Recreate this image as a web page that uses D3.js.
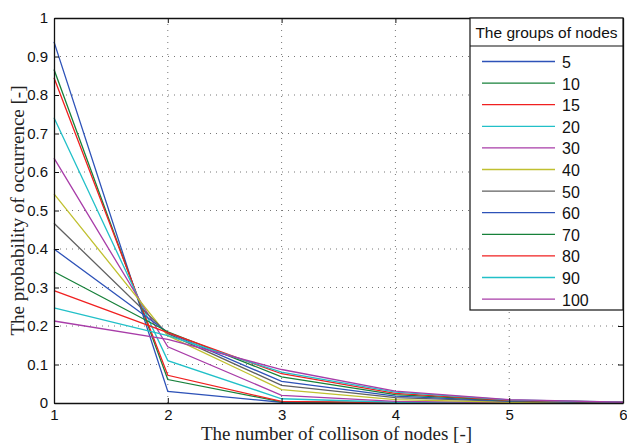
<!DOCTYPE html>
<html>
<head>
<meta charset="utf-8">
<script src="https://cdn.jsdelivr.net/npm/d3@7"></script>
<style>
  body { margin: 0; background: #fff; }
</style>
</head>
<body>
<div id="chart"></div>
<script>
// collision count on the x axis
const collisions = [1, 2, 3, 4, 5, 6];
const groups = ["5", "10", "15", "20", "30", "40", "50", "60", "70", "80", "90", "100"];
// probability per group, one row per group
const g5   = [0.938, 0.030, 0.002, 0.000, 0.000, 0.000];
const g10  = [0.866, 0.061, 0.003, 0.001, 0.000, 0.000];
const g15  = [0.845, 0.072, 0.004, 0.001, 0.000, 0.000];
const g20  = [0.741, 0.110, 0.011, 0.002, 0.000, 0.000];
const g30  = [0.636, 0.146, 0.020, 0.004, 0.001, 0.000];
const g40  = [0.543, 0.175, 0.035, 0.009, 0.002, 0.001];
const g50  = [0.467, 0.180, 0.046, 0.014, 0.004, 0.001];
const g60  = [0.400, 0.183, 0.056, 0.018, 0.005, 0.001];
const g70  = [0.341, 0.185, 0.068, 0.022, 0.006, 0.002];
const g80  = [0.292, 0.183, 0.076, 0.025, 0.007, 0.002];
const g90  = [0.247, 0.175, 0.080, 0.028, 0.008, 0.002];
const g100 = [0.213, 0.165, 0.087, 0.031, 0.009, 0.002];
const series = [g5, g10, g15, g20, g30, g40, g50, g60, g70, g80, g90, g100];
const yTicks = [0, 0.1, 0.2, 0.3, 0.4, 0.5, 0.6, 0.7, 0.8, 0.9, 1];
const colors = ["#2d52b8", "#17813a", "#f02020", "#22c0c8", "#a83ca8", "#c0c030", "#606060"];

const W = 627, H = 445;
const margin = {top: 18, right: 4, bottom: 42, left: 54};
const width = W - margin.left - margin.right,
      height = H - margin.top - margin.bottom;

const svg = d3.select("#chart").append("svg")
  .attr("width", W).attr("height", H);
const g = svg.append("g")
  .attr("transform", `translate(${margin.left},${margin.top})`);

const x = d3.scaleLinear().domain([1, 6]).range([0, width]);
const y = d3.scaleLinear().domain([0, 1]).range([height, 0]);

// dotted grid
g.append("g").selectAll("line").data(collisions.slice(1, -1)).join("line")
  .attr("x1", d => x(d)).attr("x2", d => x(d))
  .attr("y1", 0).attr("y2", height)
  .attr("stroke", "#777").attr("stroke-width", 1).attr("stroke-dasharray", "1,5");
g.append("g").selectAll("line").data(yTicks.slice(1, -1)).join("line")
  .attr("y1", d => y(d)).attr("y2", d => y(d))
  .attr("x1", 0).attr("x2", width)
  .attr("stroke", "#777").attr("stroke-width", 1).attr("stroke-dasharray", "1,5");

// lines
const line = d3.line().x((d, i) => x(collisions[i])).y(d => y(d));
g.append("g").selectAll("path").data(series).join("path")
  .attr("d", line)
  .attr("fill", "none")
  .attr("stroke", (d, i) => colors[i % colors.length])
  .attr("stroke-width", 1.3);

// axes, ticks inward like matlab
const tickFont = "'Liberation Sans', Arial, sans-serif";
const xAxis = g.append("g").attr("transform", `translate(0,${height})`)
  .call(d3.axisBottom(x).tickValues(collisions).tickFormat(d3.format("d")).tickSizeInner(-5).tickSizeOuter(0).tickPadding(6));
const yAxis = g.append("g")
  .call(d3.axisLeft(y).tickValues(yTicks).tickFormat(d => d === 0 || d === 1 ? d : d3.format(".1f")(d)).tickSizeInner(-5).tickSizeOuter(0).tickPadding(6));
g.append("g")
  .call(d3.axisTop(x).tickValues(collisions).tickFormat("").tickSizeInner(-5).tickSizeOuter(0));
g.append("g").attr("transform", `translate(${width},0)`)
  .call(d3.axisRight(y).tickValues(yTicks).tickFormat("").tickSizeInner(-5).tickSizeOuter(0));
g.selectAll(".domain").attr("stroke", "#111").attr("stroke-width", 1.3);
g.selectAll(".tick line").attr("stroke", "#111");
[xAxis, yAxis].forEach(a => a.selectAll("text")
  .style("font-family", tickFont).style("font-size", "15px").attr("fill", "#111"));

// axis titles
const serif = "'Liberation Serif', 'DejaVu Serif', serif";
svg.append("text")
  .attr("x", margin.left + width / 2 - 2).attr("y", 440)
  .attr("text-anchor", "middle")
  .style("font-family", serif).style("font-size", "19px").attr("fill", "#222")
  .text("The number of collison of nodes [-]");
svg.append("text")
  .attr("transform", `translate(24,${margin.top + height / 2}) rotate(-90)`)
  .attr("text-anchor", "middle")
  .style("font-family", serif).style("font-size", "19px").attr("fill", "#222")
  .text("The probability of occurrence [-]");

// legend
const lg = svg.append("g").attr("transform", "translate(470,18)");
const lw = 153, lh = 292;
lg.append("rect").attr("width", lw).attr("height", lh)
  .attr("fill", "#fff").attr("stroke", "#111").attr("stroke-width", 1.2);
lg.append("line").attr("x1", 0).attr("x2", lw).attr("y1", 28).attr("y2", 28)
  .attr("stroke", "#111").attr("stroke-width", 1.2);
lg.append("text").attr("x", lw / 2).attr("y", 19.5).attr("text-anchor", "middle")
  .style("font-family", tickFont).style("font-size", "15.5px").attr("fill", "#111")
  .text("The groups of nodes");
const rows = lg.selectAll("g.row").data(groups).join("g")
  .attr("class", "row")
  .attr("transform", (d, i) => `translate(0,${43.5 + i * 21.6})`);
rows.append("line").attr("x1", 12).attr("x2", 85)
  .attr("stroke", (d, i) => colors[i % colors.length]).attr("stroke-width", 1.3);
rows.append("text").attr("x", 92).attr("y", 6.5)
  .style("font-family", tickFont).style("font-size", "16px").attr("fill", "#111")
  .text(d => d);
</script>
</body>
</html>
